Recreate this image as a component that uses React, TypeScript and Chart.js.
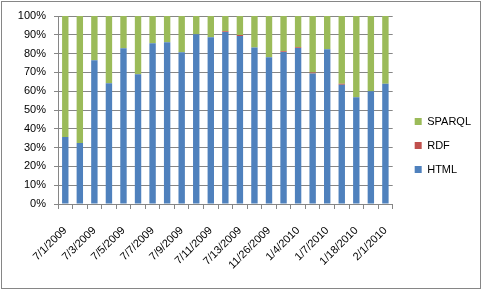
import React, { useEffect, useRef } from "react";
import { Chart, registerables } from "chart.js";

Chart.register(...registerables);

const categories: string[] = [
  "7/1/2009", "7/2/2009", "7/3/2009", "7/4/2009", "7/5/2009", "7/6/2009",
  "7/7/2009", "7/8/2009", "7/9/2009", "7/10/2009", "7/11/2009", "7/12/2009",
  "7/13/2009", "7/14/2009", "11/26/2009", "12/15/2009", "1/4/2010", "1/5/2010",
  "1/7/2010", "1/11/2010", "1/18/2010", "1/25/2010", "2/1/2010",
];

const htmlValues: number[] = [
  35.6, 32.4, 76.5, 64.2, 82.8, 69.0, 85.5, 86.0, 80.7, 90.3, 88.7, 91.5,
  89.4, 83.3, 78.1, 80.9, 83.0, 69.4, 82.3, 63.4, 56.8, 60.0, 63.9,
];

const rdfValues: number[] = [
  0, 0, 0, 0, 0, 0, 0, 0, 0, 0, 0, 0.4,
  0.5, 0, 0, 0.4, 0.4, 0.5, 0, 0.6, 0, 0, 0,
];

const sparqlValues: number[] = [
  64.4, 67.6, 23.5, 35.8, 17.2, 31.0, 14.5, 14.0, 19.3, 9.7, 11.3, 8.1,
  10.1, 16.7, 21.9, 18.7, 16.6, 30.1, 17.7, 36.0, 43.2, 40.0, 36.1,
];

const yTicks: number[] = [0, 10, 20, 30, 40, 50, 60, 70, 80, 90, 100];

const FONT = { family: "'Liberation Sans', Arial, sans-serif", size: 11 };
const GRID = "#868686";

const frame = {
  id: "frame",
  beforeDraw(chart: any) {
    const ctx = chart.ctx;
    ctx.save();
    ctx.fillStyle = "#ffffff";
    ctx.fillRect(0, 0, chart.width, chart.height);
    ctx.strokeStyle = GRID;
    ctx.lineWidth = 1;
    ctx.strokeRect(1.5, 1.5, 479, 287);
    ctx.restore();
  },
};

const legendShift = {
  id: "legendShift",
  afterLayout(chart: any) {
    const lg = chart.legend;
    if (!lg) return;
    const dx = 9;
    lg.left += dx;
    lg.right += dx;
  },
};

export default function App() {
  const ref = useRef<HTMLCanvasElement | null>(null);

  useEffect(() => {
    document.body.style.margin = "0";
    const canvas = ref.current;
    if (!canvas) return;
    const chart = new Chart(canvas, {
      type: "bar",
      data: {
        labels: categories,
        datasets: [
          { label: "HTML", data: htmlValues, backgroundColor: "#4F81BD" },
          { label: "RDF", data: rdfValues, backgroundColor: "#C0504D" },
          { label: "SPARQL", data: sparqlValues, backgroundColor: "#9BBB59" },
        ],
      },
      options: {
        responsive: false,
        animation: false,
        devicePixelRatio: 1,
        layout: { padding: { left: 8, top: 16, right: 11, bottom: 16 } },
        datasets: {
          bar: { categoryPercentage: 1, barPercentage: 0.44 },
        },
        plugins: {
          tooltip: { enabled: false },
          legend: {
            position: "right",
            reverse: true,
            labels: {
              boxWidth: 7,
              boxHeight: 7,
              padding: 13,
              color: "#000000",
              font: FONT,
            },
          },
        },
        scales: {
          x: {
            stacked: true,
            offset: true,
            grid: {
              offset: true,
              drawOnChartArea: false,
              drawTicks: true,
              tickLength: 5,
              color: GRID,
            },
            border: { display: true, color: GRID },
            ticks: {
              autoSkip: false,
              maxRotation: 45,
              minRotation: 45,
              color: "#000000",
              font: FONT,
              padding: 15,
              callback: (_v: any, i: number) => (i % 2 === 0 ? categories[i] : ""),
            },
            afterFit: (s: any) => {
              s.height = 71;
            },
          },
          y: {
            stacked: true,
            min: 0,
            max: 100,
            afterBuildTicks: (s: any) => {
              s.ticks = yTicks.map((v) => ({ value: v }));
            },
            grid: { color: GRID, tickLength: 4, drawTicks: true },
            border: { display: true, color: GRID },
            ticks: {
              color: "#000000",
              font: FONT,
              padding: 8,
              callback: (v: any) => `${v}%`,
            },
            afterFit: (s: any) => {
              s.width = 50;
            },
          },
        },
      },
      plugins: [frame, legendShift],
    });
    return () => chart.destroy();
  }, []);

  return (
    <div style={{ width: 483, height: 291 }}>
      <canvas ref={ref} width={483} height={291} style={{ display: "block" }} />
    </div>
  );
}
